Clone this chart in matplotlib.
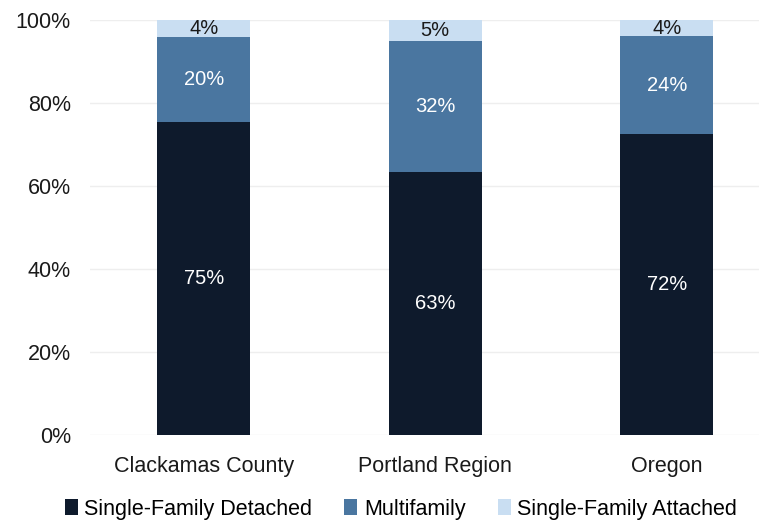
import matplotlib
matplotlib.use("Agg")
import matplotlib.pyplot as plt
from matplotlib.patches import Patch

categories = ["Clackamas County", "Portland Region", "Oregon"]
detached = [75.4, 63.4, 72.4]
multifamily = [20.4, 31.6, 23.6]
attached = [4.2, 5.0, 4.0]
series_names = ["Single-Family Detached", "Multifamily", "Single-Family Attached"]
colors = ["#0e1a2c", "#4a76a0", "#c9def2"]
label_colors = ["white", "white", "#1a1a1a"]
yticks = [0, 20, 40, 60, 80, 100]

plt.rcParams['font.family'] = ['Liberation Sans Narrow', 'Liberation Sans', 'DejaVu Sans']

fig = plt.figure(figsize=(7.71, 5.21), dpi=100)
ax = fig.add_axes([0.117, 0.165, 0.868, 0.797])

x = list(range(len(categories)))
bottoms = [0.0] * len(categories)
for vals, col, lc in zip([detached, multifamily, attached], colors, label_colors):
    ax.bar(x, vals, bottom=bottoms, width=0.4, color=col, zorder=3)
    for xi, v, b in zip(x, vals, bottoms):
        ax.text(xi, b + v / 2, f"{v:.0f}%", ha="center", va="center",
                color=lc, fontsize=14.5, zorder=4)
    bottoms = [b + v for b, v in zip(bottoms, vals)]

ax.set_xlim(-0.49, 2.40)
ax.set_ylim(0, 100)
ax.set_yticks(yticks)
ax.set_yticklabels([f"{t}%" for t in yticks], fontsize=15.5, color="#1a1a1a")
ax.set_xticks(x)
ax.set_xticklabels(categories, fontsize=15.5, color="#1a1a1a")
ax.tick_params(length=0)
ax.tick_params(axis="x", pad=15)
ax.tick_params(axis="y", pad=14)
ax.grid(axis="y", color="#eeeeee", linewidth=1, zorder=0)
for s in ax.spines.values():
    s.set_visible(False)

handles = [Patch(facecolor=c, edgecolor="none") for c in colors]
fig.legend(handles, series_names, loc="center", bbox_to_anchor=(0.52, 0.023),
           ncol=3, frameon=False, fontsize=15.5, handlelength=0.6, handleheight=0.7,
           handletextpad=0.3, columnspacing=1.5)

fig.savefig("out.png", dpi=100)
